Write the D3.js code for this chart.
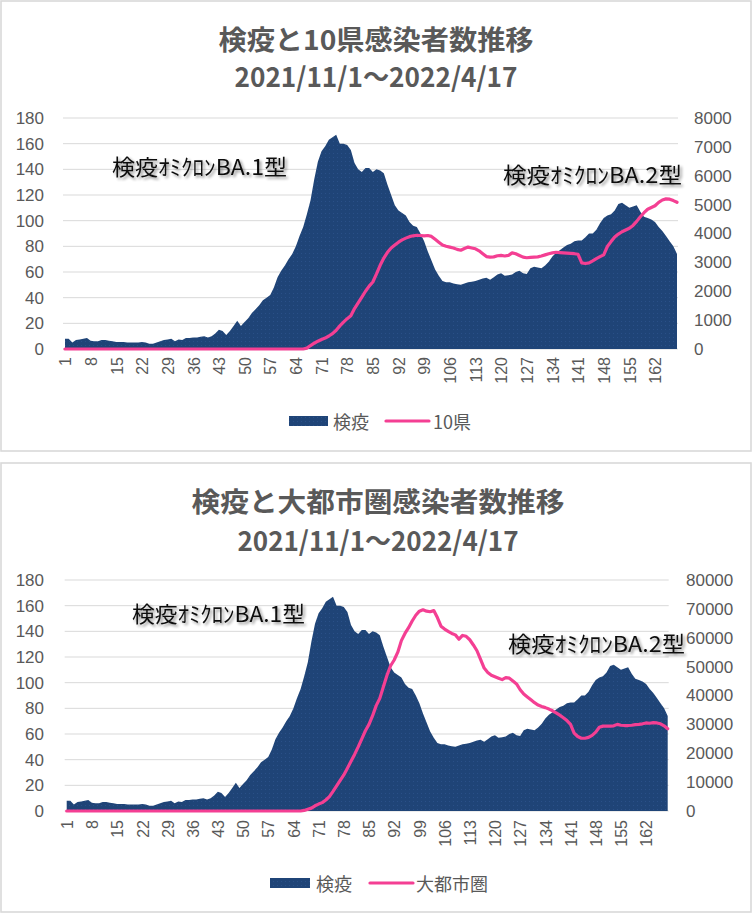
<!DOCTYPE html>
<html><head><meta charset="utf-8">
<script src="https://cdn.jsdelivr.net/npm/d3@7"></script>
<style>
html,body{margin:0;padding:0;background:#fff;}
svg{display:block;}
</style></head>
<body>
<svg id="c" width="753" height="914"></svg>
<script>
// ---------------- DATA ----------------
const days = d3.range(1, 169);
const xTickLabels = [1,8,15,22,29,36,43,50,57,64,71,78,85,92,99,106,113,120,127,134,141,148,155,162];
const leftTicks = [0,20,40,60,80,100,120,140,160,180];
const rightTicksPref = [0,1000,2000,3000,4000,5000,6000,7000,8000];
const rightTicksMetro = [0,10000,20000,30000,40000,50000,60000,70000,80000];

const kenekiValues = [
  8,8,5,7,7.5,8,8.5,6.5,6,6,
  7,7,6.5,6,5.5,5.5,5.5,5,5,5,
  5,5.5,5,4,4,5,6,7,7.5,8,
  6,7.5,7,8.5,8.5,9,9,9.5,10,9,
  10,12,15,14,11,14,18,22,18,21,
  24,28,31,34,38,40,42,48,56,61,
  65,70,74,80,88,95,105,116,132,146,
  154,158,163,165,167,160,160,159,155,145,
  140,138,141,141,138,140,139,137,128,120,
  112,108,106,104,99,96,95,90,84,76,
  69,62,57,53,52,52,51,50.5,50,51,
  52,52.5,53,54,55,55.5,54,56,58,59,
  57,57.5,58,60,61,59,58.5,63,64,63.5,
  63,65,68,72,75,77,79,81,82,84,
  84.5,84.5,87,90,90,93,98,102,104,105,
  108,113,114,112,110,111,112,107,103,102,
  101,99,95,92,88,84,80,74
];

const tenPrefValues = [
  0,0,0,0,0,0,0,0,0,0,
  0,0,0,0,0,0,0,0,0,0,
  0,0,0,0,0,0,0,0,0,0,
  0,0,0,0,0,0,0,0,0,0,
  0,0,0,0,0,0,0,0,0,0,
  0,0,0,0,0,0,0,0,0,0,
  0,0,0,0,0,0,30,120,200,270,
  330,380,450,530,650,800,930,1050,1150,1400,
  1600,1800,2000,2180,2320,2600,2900,3150,3350,3500,
  3600,3700,3780,3840,3890,3920,3940,3930,3920,3930,
  3900,3800,3700,3600,3560,3530,3500,3450,3420,3480,
  3530,3500,3470,3400,3300,3200,3180,3190,3230,3240,
  3220,3240,3330,3300,3240,3180,3160,3170,3180,3190,
  3220,3260,3300,3330,3350,3340,3330,3320,3310,3300,
  3280,2980,2960,2980,3050,3130,3200,3260,3550,3720,
  3880,3980,4060,4120,4180,4280,4420,4580,4720,4840,
  4900,4960,5080,5160,5200,5190,5140,5080
];

const metroValues = [
  0,0,0,0,0,0,0,0,0,0,
  0,0,0,0,0,0,0,0,0,0,
  0,0,0,0,0,0,0,0,0,0,
  0,0,0,0,0,0,0,0,0,0,
  0,0,0,0,0,0,0,0,0,0,
  0,0,0,0,0,0,0,0,0,0,
  0,0,0,0,0,0,200,600,1000,1800,
  2400,2900,3800,5000,6800,8700,10600,12500,14800,17200,
  19600,22200,25000,27800,30000,33000,36500,39000,43000,47000,
  50300,52300,55000,59000,61500,63500,65800,67800,69200,69700,
  69200,69000,69400,67000,64000,63000,62200,61500,61000,59500,
  60800,60500,59300,57500,55500,52500,49500,48000,47000,46500,
  46000,45500,46200,46000,45000,44000,42000,40500,39500,38500,
  37500,36700,36200,35800,35300,34700,34000,33200,32300,31300,
  30000,27000,25800,25200,25200,25500,26200,27300,29000,29400,
  29400,29400,29500,30000,29700,29600,29600,29700,29900,30000,
  30200,30500,30400,30600,30500,30200,29500,28500
];

const areaName = "検疫";
const subtitle = "2021/11/1～2022/4/17";
const annBA1 = "検疫ｵﾐｸﾛﾝBA.1型";
const annBA2 = "検疫ｵﾐｸﾛﾝBA.2型";

// ---------------- DRAW ----------------
const svg = d3.select("#c");
const NAVY = "#1f4477", PINK = "#f43f93", GRID = "#d9d9d9", TXT = "#595959";
const CJK = "'Noto Sans CJK JP','Noto Sans',sans-serif";
const NUM = "'Liberation Sans',Arial,sans-serif";

const defs = svg.append("defs");
const f = defs.append("filter").attr("id","sh").attr("x","-10%").attr("y","-30%").attr("width","130%").attr("height","180%");
f.append("feGaussianBlur").attr("in","SourceAlpha").attr("stdDeviation",1.6).attr("result","b");
f.append("feOffset").attr("in","b").attr("dx",1.5).attr("dy",1.5).attr("result","o");
f.append("feComponentTransfer").attr("in","o").attr("result","o2")
  .append("feFuncA").attr("type","linear").attr("slope",0.45);
const m = f.append("feMerge"); m.append("feMergeNode").attr("in","o2"); m.append("feMergeNode").attr("in","SourceGraphic");

const pat = defs.append("pattern").attr("id","dots").attr("width",4).attr("height",4).attr("patternUnits","userSpaceOnUse");
pat.append("rect").attr("width",4).attr("height",4).attr("fill",NAVY);
pat.append("rect").attr("x",1).attr("y",1).attr("width",1).attr("height",1).attr("fill","#2a5088");

const fmt = d3.format("d");

function drawPanel(c) {
  const g = svg.append("g");
  g.append("rect").attr("x",c.box[0]).attr("y",c.box[1]).attr("width",c.box[2]).attr("height",c.box[3])
    .attr("fill","#fff").attr("stroke",GRID).attr("stroke-width",1.6);

  // titles
  g.append("text").attr("x",c.cx).attr("y",c.titleY[0]).attr("text-anchor","middle").attr("dominant-baseline","central")
    .attr("font-family",CJK).attr("font-weight",700).attr("font-size",27).attr("fill",TXT)
    .attr("textLength",c.titleW[0]).attr("lengthAdjust","spacingAndGlyphs").text(c.title);
  g.append("text").attr("x",c.cx).attr("y",c.titleY[1]).attr("text-anchor","middle").attr("dominant-baseline","central")
    .attr("font-family",CJK).attr("font-weight",700).attr("font-size",27).attr("fill",TXT)
    .attr("textLength",c.titleW[1]).attr("lengthAdjust","spacingAndGlyphs").text(subtitle);

  const x = d3.scalePoint().domain(days).range([c.x0, c.x1]);
  const yL = d3.scaleLinear().domain([0,180]).range([c.y0, c.y1]);
  const yR = d3.scaleLinear().domain([0,c.rightMax]).range([c.y0, c.y1]);

  // gridlines
  g.append("g").selectAll("line").data(leftTicks).join("line")
    .attr("x1",c.x0-2).attr("x2",c.x1+1).attr("y1",d=>yL(d)).attr("y2",d=>yL(d))
    .attr("stroke",GRID).attr("stroke-width",1);

  // left axis
  const ax = g.append("g").attr("transform",`translate(${c.leftLabelX},0)`)
    .call(d3.axisLeft(yL).tickValues(leftTicks).tickFormat(fmt).tickSize(0).tickPadding(0));
  ax.select(".domain").remove();
  ax.selectAll("text").attr("font-family",NUM).attr("font-size",17).attr("fill",TXT);

  // right axis
  const ar = g.append("g").attr("transform",`translate(${c.rightLabelX},0)`)
    .call(d3.axisRight(yR).tickValues(c.rightTicks).tickFormat(fmt).tickSize(0).tickPadding(0));
  ar.select(".domain").remove();
  ar.selectAll("text").attr("font-family",NUM).attr("font-size",17).attr("fill",TXT);

  // bottom axis
  const ab = g.append("g").attr("transform",`translate(0,${c.y0})`)
    .call(d3.axisBottom(x).tickValues(xTickLabels).tickSize(0));
  ab.select(".domain").remove();
  ab.selectAll("text").attr("transform","rotate(-90)").attr("text-anchor","end")
    .attr("x",-c.tickPad).attr("y",0).attr("dy","0.36em")
    .attr("font-family",NUM).attr("font-size",16).attr("fill",TXT);

  // area
  const area = d3.area().x((d,i)=>x(days[i])).y0(c.y0).y1(d=>yL(d));
  g.append("path").datum(kenekiValues).attr("d",area).attr("fill","url(#dots)");

  // line
  const line = d3.line().x((d,i)=>x(days[i])).y(d=>yR(d));
  g.append("path").datum(c.lineVals).attr("d",line).attr("fill","none")
    .attr("stroke",PINK).attr("stroke-width",3.2).attr("stroke-linejoin","round").attr("stroke-linecap","round");

  // annotations
  c.ann.forEach(a => {
    g.append("text").attr("x",a.x).attr("y",a.y).attr("dominant-baseline","central")
      .attr("font-family",CJK).attr("font-size",22).attr("fill","#111")
      .attr("textLength",a.w).attr("lengthAdjust","spacingAndGlyphs")
      .attr("filter","url(#sh)").text(a.t);
  });

  // legend
  const L = c.legend;
  g.append("rect").attr("x",L.sw[0]).attr("y",L.y-5).attr("width",L.sw[1]-L.sw[0]).attr("height",10).attr("fill","url(#dots)");
  g.append("text").attr("x",L.t1).attr("y",L.y).attr("dominant-baseline","central")
    .attr("font-family",CJK).attr("font-size",18).attr("fill",TXT).text(areaName);
  g.append("line").attr("x1",L.ln[0]).attr("x2",L.ln[1]).attr("y1",L.y).attr("y2",L.y)
    .attr("stroke",PINK).attr("stroke-width",3.2).attr("stroke-linecap","round");
  g.append("text").attr("x",L.t2).attr("y",L.y).attr("dominant-baseline","central")
    .attr("font-family",CJK).attr("font-size",18).attr("fill",TXT).text(c.lineName);
}

drawPanel({
  box:[1,1,750,450], cx:376, title:"検疫と10県感染者数推移", titleY:[38,75], titleW:[315,283],
  x0:65, x1:677, y0:349, y1:118, rightMax:8000, rightTicks:rightTicksPref,
  leftLabelX:44, rightLabelX:694, tickPad:8,
  lineVals:tenPrefValues, lineName:"10県",
  ann:[{t:annBA1,x:112,y:165,w:175},{t:annBA2,x:503,y:173,w:179}],
  legend:{y:421, sw:[289,328], t1:333, ln:[386,429], t2:433}
});

drawPanel({
  box:[1,463,750,449], cx:378, title:"検疫と大都市圏感染者数推移", titleY:[500,539], titleW:[373,281],
  x0:66.7, x1:667.7, y0:811, y1:580, rightMax:80000, rightTicks:rightTicksMetro,
  leftLabelX:44, rightLabelX:686, tickPad:9,
  lineVals:metroValues, lineName:"大都市圏",
  ann:[{t:annBA1,x:132,y:612,w:173},{t:annBA2,x:508,y:642,w:177}],
  legend:{y:883, sw:[270,310], t1:316, ln:[370,413], t2:416}
});
</script>
</body></html>
